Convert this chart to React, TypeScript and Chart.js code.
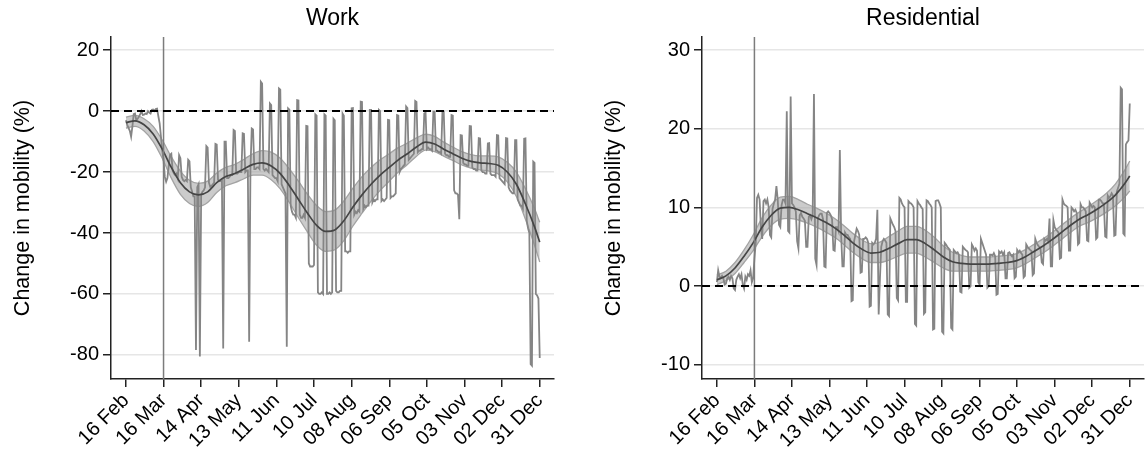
import React, { useEffect, useRef } from "react";
import { Chart, registerables } from "chart.js";

Chart.register(...registerables);

const FONT = "'Liberation Sans', Arial, Helvetica, sans-serif";

// x axis: day index, 0 = 16 Feb 2020
const tickDays = [0, 29, 58, 87, 116, 145, 174, 203, 232, 261, 290, 319];
const tickLabels = ["16 Feb", "16 Mar", "14 Apr", "13 May", "11 Jun", "10 Jul", "08 Aug", "06 Sep", "05 Oct", "03 Nov", "02 Dec", "31 Dec"];
const eventDay = 29; // 16 Mar

const workYTicks = [20, 0, -20, -40, -60, -80];
const resYTicks = [30, 20, 10, 0, -10];

// Daily values, one row per week (Sun..Sat), starting 16 Feb
const workDaily = [
  -3, -4.5, -5.5, -6.5, -8.4, -5, -1,
  -0.8, -3, -2.5, -1.9, -1, 0, -1.3,
  -1.2, -0.8, -1, 0, -0.5, -0.8, 0.4,
  0.5, 0, 0.7, 0.8, -1.7, -4, -8.4,
  -12.9, -16, -21.6, -23.2, -22, -18, -14.4,
  -14, -19.5, -20.5, -21, -20.5, -22, -14.5,
  -15.5, -21.6, -22.6, -23, -22.6, -23, -16,
  -16.5, -25, -26.4, -28, -28, -78.4, -25,
  -24, -80.5, -27.5, -26.5, -26, -25, -11.5,
  -12, -23.5, -24.9, -24.5, -24, -23.5, -10.8,
  -11, -22.6, -23, -23, -22.5, -77.9, -10,
  -10, -22, -22, -21.5, -21, -21, -6.2,
  -6.5, -20.5, -20.5, -20, -20, -20, -7.3,
  -7.5, -20, -19.5, -19.5, -75.7, -19, -5.7,
  -6, -19, -19, -18.5, -18.5, -19, 9.6,
  9, -19, -19.5, -19, -19.5, -20, 2.5,
  2, -21, -21.5, -22, -22, -23, 7.4,
  7, -24, -25, -26, -27, -77.3, 0.9,
  0.5, -31, -33, -34, -34, -35, 3.6,
  3.5, -34, -35, -35, -34, -35, -4.9,
  -5, -50, -51, -51, -51, -50.5, -1.1,
  -1.5, -59.5, -60, -60, -59.5, -60, -1.1,
  -1.5, -60, -60, -59.5, -60, -59.5, -2.5,
  -3, -59, -59.5, -59.5, -59, -59, -0.8,
  -1.5, -46, -46, -46.5, -46, -46, 0.9,
  1, -34, -33, -33.5, -32.5, -33, 3.1,
  3, -32, -31, -31.5, -31, -31, 0.4,
  0.4, -30, -29, -29.5, -29, -29, 0.4,
  0, -29.5, -29, -29.5, -29, -28.5, -2.9,
  -3, -28.5, -28, -28, -27.5, -27, -1.3,
  -1.5, -20, -19, -18.5, -18, -17.5, 1.5,
  1, -16, -15.5, -15, -14.5, -14, 3.3,
  3, -13.5, -13, -13, -12.5, -12.5, -0.8,
  -0.5, -12.5, -12, -12.5, -12.5, -13, -0.2,
  -0.2, -13, -13, -13.5, -13.5, -14, -0.2,
  -0.2, -14, -14.5, -14.5, -15, -15, -1.3,
  -1.5, -26, -27, -27, -27.5, -35.5, -7.9,
  -8, -17, -17.5, -17.5, -18, -18, -4.9,
  -5, -18.5, -19, -19, -19.5, -19.5, -8.9,
  -9, -19.5, -20, -20, -20.5, -20.5, -10.6,
  -10.5, -20.5, -21, -21, -21, -21.5, -7.9,
  -8, -22, -22.5, -23, -23.5, -24, -8.9,
  -9, -25, -26, -26.5, -27, -27, -9.5,
  -9.5, -29, -30, -31, -31, -32, -9.1,
  -9, -36, -38.5, -40, -83, -83.5, -16.6,
  -17, -60, -60.5, -61.5, -81,
];

const resDaily = [
  0.5, 2, 1.2, 1, 1.3, 1, 0.2,
  0.3, 1, 1.2, 0.8, 1.3, 1, -0.3,
  -0.5, 0.8, 1.2, 1.5, 1, 1.5, 0.2,
  -0.3, 1.2, 0.8, 1.5, 1.3, 2, 0.5,
  1, 3.5, 5.5, 11.2, 11.6, 11, 7.5,
  6, 10.8, 11, 10.5, 11, 10, 6.5,
  6.2, 9.8, 10.5, 11, 12.7, 11, 7.8,
  7.5, 10.3, 11, 11, 10.5, 22.2, 7,
  6.8, 24.1, 10.5, 10.3, 10, 9.5, 5.7,
  4.8, 9, 9.3, 8.8, 8.6, 8.3, 5,
  5, 8.8, 9, 8.5, 9, 24.4, 3.5,
  2.7, 8.6, 9, 9.2, 9.2, 8.5, 2.5,
  2.4, 9.3, 9.5, 9.3, 9, 8.5, 4.6,
  4.5, 7.5, 7.5, 7, 17.3, 6.5, 2.5,
  2.5, 6.8, 6.5, 6.5, 6.2, 6, -1.9,
  -1.8, 5.7, 6.5, 7.3, 7, 6.5, 1.7,
  1.8, 6, 6, 6.2, 6, 5.5, -2.6,
  -2.5, 5.5, 5.3, 5.5, 6, 9.7, -3.6,
  1, 5, 5.7, 6, 5.8, 5.5, -3.6,
  -3.8, 8.6, 8.2, 7.8, 7.5, 7, -1.5,
  -1.8, 11.2, 11, 10.5, 10.2, 10, -2,
  -2, 10.8, 10.6, 10.5, 10.3, 10, -4.8,
  -5, 10.8, 10.5, 10.3, 10, 9.8, -3.5,
  -3.3, 10.9, 10.8, 10.5, 10.3, 10, -5.5,
  -5.4, 10.8, 10.9, 10.9, 10.5, 10, -5.8,
  -6, 5.5, 5.3, 5, 4.8, 4.6, -5.3,
  -5.5, 4.6, 4.4, 4.2, 4.3, 4, -0.7,
  -0.8, 5, 4.8, 4.6, 4.5, 4.3, -0.2,
  0, 5.3, 5, 4.5, 4.8, 4.5, 0.5,
  0.2, 6, 5.5, 5, 4.5, 4, -0.2,
  0, 4, 4, 3.9, 4.2, 3.8, -1.1,
  -1, 4.4, 4.2, 4.4, 4, 4.3, 1,
  1, 4.2, 4.3, 4, 3.8, 4, 1,
  1.2, 4.6, 4.3, 4.5, 4.2, 4, 1.1,
  1.3, 5.3, 5, 4.8, 4.6, 4.5, 1.4,
  1.6, 6, 5.5, 5.2, 5, 4.8, 3,
  2.8, 6, 5.8, 6, 5.7, 8.6, 2.5,
  2.5, 8.4, 7.5, 7.2, 7, 6.8, 3.5,
  3.6, 11, 10.5, 10.3, 10.2, 10, 4.5,
  4.5, 10, 9.8, 9.5, 9.7, 9.3, 5.3,
  5.5, 10.4, 10, 10, 9.8, 9.5, 5.8,
  5.7, 10.6, 10.3, 10, 10.2, 10, 6,
  6.2, 11, 11, 10.8, 10.5, 10.5, 6.3,
  6.2, 11.5, 11.2, 11.4, 11.8, 11.5, 6.4,
  6.5, 12, 12.5, 13, 25.2, 25, 6.7,
  6.5, 18, 18.3, 18.5, 23.2,
];

// Smoothed trend and confidence band, read at these days
const smoothDays = [0, 7, 14, 21, 28, 35, 42, 49, 56, 63, 70, 77, 84, 91, 98, 105, 112, 119, 126, 133, 140, 147, 154, 161, 168, 175, 182, 189, 196, 203, 210, 217, 224, 231, 238, 245, 252, 259, 266, 273, 280, 287, 294, 301, 308, 315, 319];

const workSmooth = [-3.8, -3.2, -4.5, -7.5, -12.5, -18.5, -23.5, -26.5, -27.5, -26.5, -23.5, -21.5, -20.5, -19, -17.5, -17, -18, -20.5, -24.5, -29, -33.5, -37.5, -39.5, -39, -36, -31.5, -27.5, -24, -21, -18.5, -16, -14, -11.8, -10.2, -10.8, -12.5, -14, -15.5, -16.5, -17, -17.2, -17.8, -20, -24, -30.5, -38, -43];
const workLower = [-5.6, -5.0, -6.5, -10, -15.5, -22, -27.3, -30.3, -31.3, -30, -26.7, -24.5, -23.5, -22.2, -21, -21, -22.5, -25.5, -30, -35, -39.7, -44, -46, -45.5, -42.5, -37.7, -33.5, -29.5, -26, -23, -20, -17.5, -14.8, -12.8, -13.3, -14.8, -16.2, -17.7, -18.7, -19.3, -19.7, -20.6, -23.2, -28, -35.5, -44, -49.5];
const workUpper = [-2.0, -1.4, -2.5, -5, -9.5, -15, -19.7, -22.7, -23.7, -23, -20.3, -18.5, -17.5, -15.8, -14, -13, -13.5, -15.5, -19, -23, -27.3, -31, -33, -32.5, -29.5, -25.3, -21.5, -18.5, -16, -14, -12, -10.5, -8.8, -7.6, -8.3, -10.2, -11.8, -13.3, -14.3, -14.7, -14.7, -15, -16.8, -20, -25.5, -32, -36.5];

const resSmooth = [0.8, 1.3, 2.3, 3.8, 5.5, 7.5, 9.0, 9.9, 10.0, 9.7, 9.2, 8.7, 8.1, 7.4, 6.5, 5.5, 4.7, 4.2, 4.3, 4.8, 5.4, 5.9, 5.9, 5.4, 4.6, 3.7, 3.1, 2.9, 2.8, 2.8, 2.8, 2.9, 3.0, 3.2, 3.7, 4.4, 5.1, 5.9, 6.8, 7.7, 8.5, 9.1, 9.8, 10.6, 11.6, 13.0, 14.0];
const resLower = [0.2, 0.7, 1.6, 3.0, 4.5, 6.3, 7.7, 8.5, 8.6, 8.4, 8.0, 7.5, 6.9, 6.2, 5.3, 4.3, 3.5, 3.0, 3.0, 3.3, 3.8, 4.2, 4.2, 3.7, 3.0, 2.3, 1.9, 1.9, 1.9, 1.9, 1.9, 2.0, 2.1, 2.3, 2.8, 3.5, 4.2, 5.0, 5.9, 6.8, 7.6, 8.1, 8.7, 9.4, 10.2, 11.3, 12.1];
const resUpper = [1.4, 1.9, 3.0, 4.6, 6.5, 8.7, 10.3, 11.3, 11.4, 11.0, 10.4, 9.9, 9.3, 8.6, 7.7, 6.7, 5.9, 5.4, 5.6, 6.3, 7.0, 7.6, 7.6, 7.1, 6.2, 5.1, 4.3, 3.9, 3.7, 3.7, 3.7, 3.8, 3.9, 4.1, 4.6, 5.3, 6.0, 6.8, 7.7, 8.6, 9.4, 10.1, 10.9, 11.8, 13.0, 14.7, 15.9];

type Panel = {
  title: string;
  daily: number[];
  smooth: number[];
  lower: number[];
  upper: number[];
  yMin: number;
  yMax: number;
  yTicks: number[];
  yWidth: number;
  rightPad: number;
};

const panels: Panel[] = [
  { title: "Work", daily: workDaily, smooth: workSmooth, lower: workLower, upper: workUpper, yMin: -87.9, yMax: 24.3, yTicks: workYTicks, yWidth: 111, rightPad: 19 },
  { title: "Residential", daily: resDaily, smooth: resSmooth, lower: resLower, upper: resUpper, yMin: -11.8, yMax: 31.65, yTicks: resYTicks, yWidth: 129, rightPad: 2 },
];

const W = 573;
const H = 455;

function buildConfig(p: Panel): any {
  const decor = {
    id: "decor",
    afterDatasetsDraw(chart: any) {
      const { ctx, chartArea: a, scales } = chart;
      const x = scales.x;
      const y = scales.y;
      ctx.save();
      const ex = x.getPixelForValue(eventDay);
      ctx.strokeStyle = "#7c7c7c";
      ctx.lineWidth = 1.5;
      ctx.beginPath();
      ctx.moveTo(ex, a.top);
      ctx.lineTo(ex, a.bottom);
      ctx.stroke();
      const zy = y.getPixelForValue(0);
      ctx.strokeStyle = "#000";
      ctx.lineWidth = 2;
      ctx.setLineDash([8, 5]);
      ctx.beginPath();
      ctx.moveTo(a.left, zy);
      ctx.lineTo(a.right, zy);
      ctx.stroke();
      ctx.restore();
    },
    afterDraw(chart: any) {
      const { ctx, chartArea: a } = chart;
      ctx.save();
      ctx.fillStyle = "#000";
      ctx.font = `23px ${FONT}`;
      ctx.textAlign = "center";
      ctx.textBaseline = "alphabetic";
      ctx.fillText(p.title, (a.left + a.right) / 2, 25);
      ctx.translate(a.left - 82.5, (a.top + a.bottom) / 2);
      ctx.rotate(-Math.PI / 2);
      ctx.font = `21.5px ${FONT}`;
      ctx.fillText("Change in mobility (%)", 0, 0);
      ctx.restore();
    },
  };

  return {
    type: "line",
    data: {
      datasets: [
        {
          label: "smooth",
          data: smoothDays.map((d, i) => ({ x: d, y: p.smooth[i] })),
          borderColor: "#454545",
          borderWidth: 1.7,
          pointRadius: 0,
          cubicInterpolationMode: "monotone",
          fill: false,
          order: 1,
        },
        {
          label: "daily",
          data: p.daily.map((v, i) => ({ x: i, y: v })),
          borderColor: "#858585",
          borderWidth: 1.8,
          pointRadius: 0,
          tension: 0,
          fill: false,
          order: 2,
        },
        {
          label: "lower",
          data: smoothDays.map((d, i) => ({ x: d, y: p.lower[i] })),
          borderColor: "#a3a3a3",
          borderWidth: 1.3,
          pointRadius: 0,
          cubicInterpolationMode: "monotone",
          fill: false,
          order: 4,
        },
        {
          label: "upper",
          data: smoothDays.map((d, i) => ({ x: d, y: p.upper[i] })),
          borderColor: "#a3a3a3",
          borderWidth: 1.3,
          pointRadius: 0,
          cubicInterpolationMode: "monotone",
          fill: { target: 2 },
          backgroundColor: "rgba(160,160,160,0.55)",
          order: 3,
        },
      ],
    },
    options: {
      responsive: false,
      maintainAspectRatio: false,
      animation: false,
      devicePixelRatio: 1,
      events: [],
      layout: { padding: { left: 0, top: 37, right: p.rightPad, bottom: 0 } },
      plugins: {
        legend: { display: false },
        tooltip: { enabled: false },
        title: { display: false },
        filler: { drawTime: "beforeDatasetsDraw" },
      },
      scales: {
        x: {
          type: "linear",
          min: -11.5,
          max: 330,
          offset: false,
          border: { display: true, color: "#222", width: 1.5 },
          grid: { display: true, drawOnChartArea: false, drawTicks: true, tickLength: 8, tickColor: "#222", lineWidth: 1.5 },
          ticks: {
            autoSkip: false,
            minRotation: 45,
            maxRotation: 45,
            padding: 2,
            color: "#000",
            font: { family: FONT, size: 20 },
            callback: (value: any) => {
              const i = tickDays.indexOf(Number(value));
              return i >= 0 ? tickLabels[i] : "";
            },
          },
          afterBuildTicks: (scale: any) => {
            scale.ticks = tickDays.map((v) => ({ value: v }));
          },
          afterFit: (scale: any) => {
            scale.height = H - 379;
            scale.paddingLeft = 0;
            scale.paddingRight = 0;
          },
        },
        y: {
          type: "linear",
          min: p.yMin,
          max: p.yMax,
          border: { display: true, color: "#222", width: 1.5 },
          grid: { display: true, drawOnChartArea: true, drawTicks: true, tickLength: 8, color: "#e6e6e6", tickColor: "#222", lineWidth: 1.5 },
          ticks: {
            padding: 4,
            color: "#000",
            font: { family: FONT, size: 20 },
            callback: (value: any) => String(value),
          },
          afterBuildTicks: (scale: any) => {
            scale.ticks = p.yTicks.map((v) => ({ value: v }));
          },
          afterFit: (scale: any) => {
            scale.width = p.yWidth;
            scale.paddingTop = 0;
            scale.paddingBottom = 0;
          },
        },
      },
    },
    plugins: [decor],
  };
}

function ChartPanel({ panel }: { panel: Panel }) {
  const ref = useRef<HTMLCanvasElement | null>(null);
  useEffect(() => {
    if (!ref.current) return;
    const chart = new Chart(ref.current, buildConfig(panel));
    return () => chart.destroy();
  }, [panel]);
  return <canvas ref={ref} width={W} height={H} style={{ display: "block", width: W, height: H }} />;
}

export default function App() {
  return (
    <div style={{ position: "fixed", left: 0, top: 0, width: 2 * W, height: H, background: "#fff" }}>
      {panels.map((p, i) => (
        <div key={p.title} style={{ position: "absolute", left: i * W, top: 0, width: W, height: H }}>
          <ChartPanel panel={p} />
        </div>
      ))}
    </div>
  );
}
